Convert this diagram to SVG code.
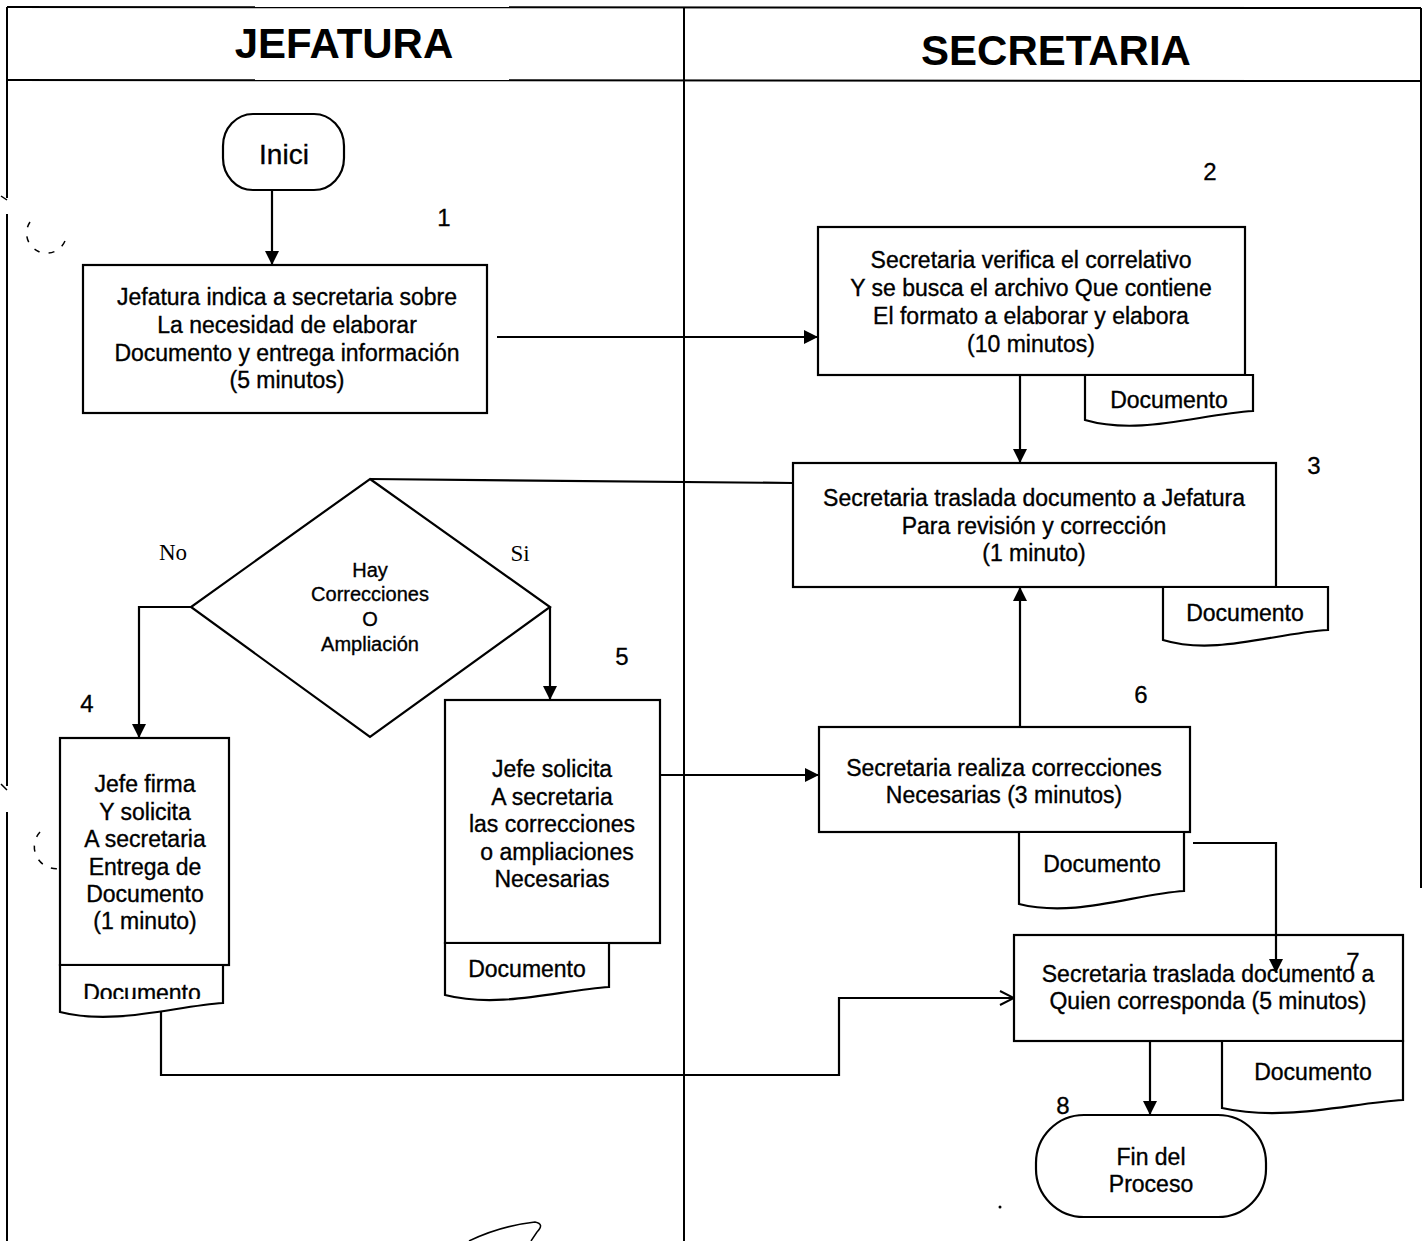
<svg xmlns="http://www.w3.org/2000/svg" width="1424" height="1241" viewBox="0 0 1424 1241">
  <style>
    .frame { fill: none; stroke: #000; stroke-width: 2; }
    .shape { fill: #fff; stroke: #000; stroke-width: 2.2; }
    .conn { fill: none; stroke: #000; stroke-width: 2.2; }
    .t { font-family: "Liberation Sans", Arial, sans-serif; font-size: 23px; fill: #000; stroke: #000; stroke-width: 0.35; text-anchor: middle; }
    .dec { font-family: "Liberation Sans", Arial, sans-serif; font-size: 20px; fill: #000; stroke: #000; stroke-width: 0.35; text-anchor: middle; }
    .hdr { font-family: "Liberation Sans", Arial, sans-serif; font-size: 42px; font-weight: bold; fill: #000; text-anchor: middle; }
    .num { font-family: "Liberation Sans", Arial, sans-serif; font-size: 24px; fill: #000; stroke: #000; stroke-width: 0.3; text-anchor: middle; }
    .lbl { font-family: "Liberation Serif", "Times New Roman", serif; font-size: 23px; fill: #000; text-anchor: middle; }
    .punch { fill: none; stroke: #000; stroke-width: 1.5; stroke-dasharray: 6 9; }
    .mark { fill: none; stroke: #000; stroke-width: 1.5; }
  </style>
  <defs>
    <marker id="arrow" viewBox="0 0 14 14" refX="14" refY="7" markerWidth="14" markerHeight="14" markerUnits="userSpaceOnUse" orient="auto">
      <path d="M0,0 L14,7 L0,14 Z" fill="#000"/>
    </marker>
    <marker id="open" viewBox="0 0 16 16" refX="15" refY="8" markerWidth="16" markerHeight="16" markerUnits="userSpaceOnUse" orient="auto">
      <path d="M1,1 L15,8 L1,15" fill="none" stroke="#000" stroke-width="2"/>
    </marker>
    <clipPath id="cut4">
      <rect x="60" y="965" width="170" height="34"/>
    </clipPath>
  </defs>

  <rect width="1424" height="1241" fill="#fff"/>

  <!-- swimlane frame -->
  <g id="lanes">
    <line class="frame" x1="7" y1="7" x2="1421" y2="8"/>
    <line class="frame" x1="7" y1="80" x2="1421" y2="81"/>
    <line class="frame" x1="684" y1="7" x2="684" y2="1241"/>
    <line class="frame" x1="1421" y1="8" x2="1421" y2="888"/>
    <line class="frame" x1="7" y1="7" x2="7" y2="198"/>
    <line class="frame" x1="7" y1="214" x2="7" y2="786"/>
    <line class="frame" x1="7" y1="812" x2="7" y2="1241"/>
    <text class="hdr" x="344" y="58">JEFATURA</text>
    <text class="hdr" x="1056" y="65">SECRETARIA</text>
  </g>

  <!-- punched-hole marks along the margin -->
  <g id="margin-marks">
    <path class="punch" d="M30,222 A20,20 0 1 0 66,238"/>
    <path class="punch" d="M40,832 A22,22 0 0 0 62,868"/>
    <path class="mark" d="M1,196 L7,200"/>
    <path class="mark" d="M1,784 L7,790"/>
    <circle cx="1000" cy="1207" r="1.5" fill="#000"/>
    <path class="mark" stroke-width="1.8" d="M469,1241 Q500,1226 535,1222 Q545,1224 537,1232 L531,1241"/>
  </g>

  <!-- connectors -->
  <g id="connectors">
    <line class="conn" x1="272" y1="190" x2="272" y2="265" marker-end="url(#arrow)"/>
    <line class="conn" x1="497" y1="337" x2="818" y2="337" marker-end="url(#arrow)"/>
    <line class="conn" x1="1020" y1="375" x2="1020" y2="463" marker-end="url(#arrow)"/>
    <line class="conn" x1="370" y1="479" x2="793" y2="483"/>
    <polyline class="conn" points="191,607 139,607 139,738" marker-end="url(#arrow)"/>
    <line class="conn" x1="550" y1="607" x2="550" y2="700" marker-end="url(#arrow)"/>
    <line class="conn" x1="660" y1="775" x2="819" y2="775" marker-end="url(#arrow)"/>
    <line class="conn" x1="1020" y1="727" x2="1020" y2="587" marker-end="url(#arrow)"/>
    <polyline class="conn" points="161,1010 161,1075 839,1075 839,998 1014,998" marker-end="url(#open)"/>
    <line class="conn" x1="1150" y1="1041" x2="1150" y2="1115" marker-end="url(#arrow)"/>
  </g>

  <!-- start -->
  <g id="inicio">
    <rect class="shape" x="223" y="114" width="121" height="76" rx="30" ry="32"/>
    <text class="t" x="284" y="164" style="font-size:28px">Inici</text>
  </g>

  <!-- step 1 -->
  <g id="paso1">
    <text class="num" x="444" y="226">1</text>
    <rect class="shape" x="83" y="265" width="404" height="148"/>
    <text class="t" x="287" y="305">Jefatura indica a secretaria sobre</text>
    <text class="t" x="287" y="333">La necesidad de elaborar</text>
    <text class="t" x="287" y="361">Documento y entrega información</text>
    <text class="t" x="287" y="388">(5 minutos)</text>
  </g>

  <!-- step 2 -->
  <g id="paso2">
    <text class="num" x="1210" y="180">2</text>
    <rect class="shape" x="818" y="227" width="427" height="148"/>
    <text class="t" x="1031" y="268">Secretaria verifica el correlativo</text>
    <text class="t" x="1031" y="296">Y se busca el archivo Que contiene</text>
    <text class="t" x="1031" y="324">El formato a elaborar y elabora</text>
    <text class="t" x="1031" y="352">(10 minutos)</text>
    <path class="shape" d="M1085,375 H1253 V411 C1200,414 1140,436 1085,420 Z"/>
    <text class="t" x="1169" y="408">Documento</text>
  </g>

  <!-- step 3 -->
  <g id="paso3">
    <text class="num" x="1314" y="474">3</text>
    <rect class="shape" x="793" y="463" width="483" height="124"/>
    <text class="t" x="1034" y="506">Secretaria traslada documento a Jefatura</text>
    <text class="t" x="1034" y="534">Para revisión y corrección</text>
    <text class="t" x="1034" y="561">(1 minuto)</text>
    <path class="shape" d="M1163,587 H1328 V630 C1275,633 1215,656 1163,640 Z"/>
    <text class="t" x="1245" y="621">Documento</text>
  </g>

  <!-- decision -->
  <g id="decision">
    <polygon class="shape" points="370,479 550,607 370,737 191,607"/>
    <text class="dec" x="370" y="577">Hay</text>
    <text class="dec" x="370" y="601">Correcciones</text>
    <text class="dec" x="370" y="626">O</text>
    <text class="dec" x="370" y="651">Ampliación</text>
    <text class="lbl" x="173" y="560">No</text>
    <text class="lbl" x="520" y="561">Si</text>
  </g>

  <!-- step 4 -->
  <g id="paso4">
    <text class="num" x="87" y="712">4</text>
    <rect class="shape" x="60" y="738" width="169" height="227"/>
    <text class="t" x="145" y="792">Jefe firma</text>
    <text class="t" x="145" y="820">Y solicita</text>
    <text class="t" x="145" y="847">A secretaria</text>
    <text class="t" x="145" y="875">Entrega de</text>
    <text class="t" x="145" y="902">Documento</text>
    <text class="t" x="145" y="929">(1 minuto)</text>
    <path class="shape" d="M60,965 H223 V1003 C175,1006 115,1026 60,1012 Z"/>
    <text class="t" x="142" y="1001" clip-path="url(#cut4)">Documento</text>
  </g>

  <!-- step 5 -->
  <g id="paso5">
    <text class="num" x="622" y="665">5</text>
    <rect class="shape" x="445" y="700" width="215" height="243"/>
    <text class="t" x="552" y="777">Jefe solicita</text>
    <text class="t" x="552" y="805">A secretaria</text>
    <text class="t" x="552" y="832">las correcciones</text>
    <text class="t" x="557" y="860">o ampliaciones</text>
    <text class="t" x="552" y="887">Necesarias</text>
    <path class="shape" d="M445,943 H609 V987 C560,990 500,1009 445,995 Z"/>
    <text class="t" x="527" y="977">Documento</text>
  </g>

  <!-- step 6 -->
  <g id="paso6">
    <text class="num" x="1141" y="703">6</text>
    <rect class="shape" x="819" y="727" width="371" height="105"/>
    <text class="t" x="1004" y="776">Secretaria realiza correcciones</text>
    <text class="t" x="1004" y="803">Necesarias (3 minutos)</text>
    <path class="shape" d="M1019,832 H1184 V891 C1135,894 1075,918 1019,904 Z"/>
    <text class="t" x="1102" y="872">Documento</text>
    <polyline class="conn" points="1193,843 1276,843 1276,973" marker-end="url(#arrow)"/>
  </g>

  <!-- step 7 -->
  <g id="paso7">
    <rect class="shape" x="1014" y="935" width="389" height="106"/>
    <text class="t" x="1208" y="982">Secretaria traslada documento a</text>
    <text class="t" x="1208" y="1009">Quien corresponda (5 minutos)</text>
    <line class="conn" x1="1276" y1="935" x2="1276" y2="960"/>
    <path d="M1269,959 L1283,959 L1276,973 Z" fill="#000"/>
    <text class="num" x="1353" y="970">7</text>
    <path class="shape" d="M1222,1041 H1403 V1100 C1350,1103 1285,1122 1222,1108 Z"/>
    <text class="t" x="1313" y="1080">Documento</text>
  </g>

  <!-- end -->
  <g id="fin">
    <text class="num" x="1063" y="1114">8</text>
    <rect class="shape" x="1036" y="1115" width="230" height="102" rx="48" ry="48"/>
    <text class="t" x="1151" y="1165">Fin del</text>
    <text class="t" x="1151" y="1192">Proceso</text>
  </g>
</svg>
